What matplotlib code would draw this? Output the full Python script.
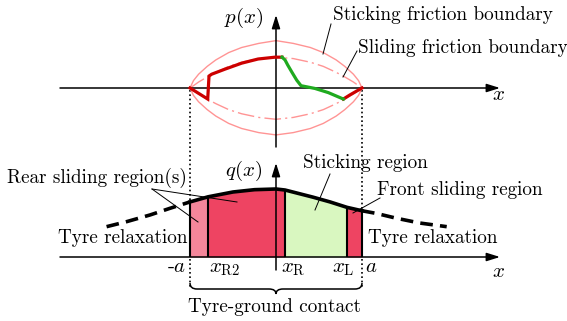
import numpy as np
import matplotlib
matplotlib.use('Agg')
import matplotlib.pyplot as plt
from matplotlib.transforms import Affine2D
from matplotlib.path import Path
from matplotlib.patches import PathPatch

plt.rcParams['font.family'] = ['cmr10', 'DejaVu Serif']
plt.rcParams['mathtext.fontset'] = 'cm'
plt.rcParams['axes.unicode_minus'] = False

# =========================
# DATA (x in units of the half contact length a)
# =========================
# friction boundaries of p(x)
bound_x = [-1.0, -0.96, -0.9, -0.8, -0.7, -0.55, -0.4, -0.2, 0.0,
           0.2, 0.4, 0.55, 0.7, 0.8, 0.9, 0.96, 1.0]
stick_top = [0.0, 0.16, 0.30, 0.47, 0.61, 0.77, 0.88, 0.97, 1.03,
             0.97, 0.88, 0.77, 0.61, 0.47, 0.30, 0.16, 0.0]
stick_bot = [0.0, -0.16, -0.30, -0.47, -0.61, -0.77, -0.88, -0.97, -1.02,
             -0.97, -0.88, -0.77, -0.61, -0.47, -0.30, -0.16, 0.0]
slide_top = [0.0, 0.05, 0.13, 0.24, 0.34, 0.47, 0.56, 0.64, 0.67,
             0.64, 0.56, 0.47, 0.34, 0.24, 0.13, 0.05, 0.0]
slide_bot = [0.0, -0.05, -0.13, -0.24, -0.34, -0.47, -0.56, -0.64, -0.68,
             -0.64, -0.56, -0.47, -0.34, -0.24, -0.13, -0.05, 0.0]

# actual p(x): rear sliding (red), sticking (green), front sliding (red)
rear_x = [-1.0, -0.794, -0.779, -0.748, -0.593, -0.399, -0.209, -0.012, 0.07]
rear_p = [0.0, -0.24, 0.26, 0.30, 0.41, 0.54, 0.63, 0.67, 0.67]
stick_x = [0.07, 0.105, 0.136, 0.183, 0.241, 0.291, 0.453, 0.608, 0.783]
stick_p = [0.67, 0.61, 0.50, 0.35, 0.17, 0.05, -0.01, -0.10, -0.24]
front_x = [0.783, 0.86, 1.0]
front_p = [-0.24, -0.15, 0.0]

# q(x) load distribution
q_x = [-1.0, -0.79, -0.5, -0.25, 0.0, 0.105, 0.43, 0.628, 0.826, 1.0]
q_val = [0.81, 0.885, 0.956, 0.99, 1.0, 0.985, 0.88, 0.81, 0.73, 0.68]
relax_left_x = [-1.97, -1.736, -1.465, -1.233, -1.0]
relax_left_q = [0.446, 0.52, 0.618, 0.716, 0.81]
relax_right_x = [1.0, 1.17, 1.4, 1.67, 1.985]
relax_right_q = [0.68, 0.64, 0.57, 0.50, 0.446]

# region borders: -a, x_R2, x_R, x_L, a
borders = [-1.0, -0.79, 0.105, 0.826, 1.0]
region_colors = ['#f4869a', '#ee4462', '#d9f7c0', '#ee4462']

# =========================
# FIGURE (axes in pixel units)
# =========================
fig = plt.figure(figsize=(5.67, 3.21), dpi=100)
ax = fig.add_axes([0, 0, 1, 1])
ax.set_xlim(0, 567)
ax.set_ylim(321, 0)
ax.set_autoscale_on(False)
ax.axis('off')

top = Affine2D().scale(86, -46).translate(276, 88) + ax.transData
bot = Affine2D().scale(86, -68).translate(276, 257) + ax.transData

pink = '#ff9494'
red = '#cc0000'
green = '#1faa1f'

# axes
arrow = dict(arrowstyle='-|>,head_length=0.8,head_width=0.25', lw=1.1, color='k',
             shrinkA=0, shrinkB=0)
for start, end in [((60, 88), (500, 88)), ((276, 147), (276, 15)),
                   ((60, 257), (500, 257)), ((276, 270), (276, 163))]:
    ax.annotate('', xy=end, xytext=start, arrowprops=arrow, zorder=3)

# dotted contact limits
ax.vlines([190, 362], 90, 288, colors='k', linestyles=(0, (1, 1.6)), lw=1.2)

# ---- top: p(x) ----
dashdot = (0, (12, 3, 1.5, 3))
ax.plot(bound_x, stick_top, color=pink, lw=1.0, transform=top)
ax.plot(bound_x, stick_bot, color=pink, lw=1.0, transform=top)
ax.plot(bound_x, slide_top, color=pink, lw=1.0, ls=dashdot, transform=top)
ax.plot(bound_x, slide_bot, color=pink, lw=1.0, ls=dashdot, transform=top)
ax.plot(rear_x, rear_p, color=red, lw=2.3, solid_joinstyle='miter', transform=top, zorder=4)
ax.plot(front_x, front_p, color=red, lw=2.3, transform=top, zorder=4)
ax.plot(stick_x, stick_p, color=green, lw=2.3, transform=top, zorder=4)

# ---- bottom: q(x) ----
qx = np.array(q_x)
for lo, hi, c in zip(borders[:-1], borders[1:], region_colors):
    ax.fill_between(q_x, 0, q_val, where=(qx >= lo - 1e-9) & (qx <= hi + 1e-9),
                    color=c, lw=0, transform=bot, zorder=1)
ax.vlines(borders, 0, np.interp(borders, q_x, q_val), colors='k', lw=1.5,
          transform=bot, zorder=2)
ax.plot(q_x, q_val, color='k', lw=2.6, transform=bot, zorder=4)
ax.plot(relax_left_x, relax_left_q, color='k', lw=2.6, ls=(0, (3.5, 2)), transform=bot)
ax.plot(relax_right_x, relax_right_q, color='k', lw=2.6, ls=(0, (3.5, 2)), transform=bot)

# brace under the contact patch
verts = [(190, 283), (190, 289), (197, 289), (269, 289), (276, 289), (276, 294),
         (276, 289), (283, 289), (355, 289), (362, 289), (362, 283)]
codes = [Path.MOVETO, Path.CURVE3, Path.CURVE3, Path.LINETO, Path.CURVE3, Path.CURVE3,
         Path.CURVE3, Path.CURVE3, Path.LINETO, Path.CURVE3, Path.CURVE3]
ax.add_patch(PathPatch(Path(verts, codes), fill=False, lw=1.1, ec='k'))

# leader lines
for (x0, y0), (x1, y1) in [((331, 24), (323, 54)), ((357, 51), (343, 77)),
                           ((330, 174), (315, 210)), ((380, 198), (353, 213)),
                           ((152, 189), (198, 222)), ((152, 189), (237, 202))]:
    ax.plot([x0, x1], [y0, y1], color='k', lw=0.7)

# =========================
# TEXT
# =========================
fs = 13.8
ms = 15
ax.text(244, 23, '$p(x)$', fontsize=ms, ha='center', va='baseline')
ax.text(244, 176, '$q(x)$', fontsize=ms, ha='center', va='baseline')
ax.text(498, 100, '$x$', fontsize=ms, ha='center', va='baseline')
ax.text(499, 277, '$x$', fontsize=ms, ha='center', va='baseline')
ax.text(333, 20, 'Sticking friction boundary', fontsize=fs, ha='left', va='baseline')
ax.text(358, 53, 'Sliding friction boundary', fontsize=fs, ha='left', va='baseline')
ax.text(7, 183, 'Rear sliding region(s)', fontsize=fs, ha='left', va='baseline')
ax.text(303, 168, 'Sticking region', fontsize=fs, ha='left', va='baseline')
ax.text(377, 195, 'Front sliding region', fontsize=fs, ha='left', va='baseline')
ax.text(58, 243, 'Tyre relaxation', fontsize=fs, ha='left', va='baseline')
ax.text(368, 243, 'Tyre relaxation', fontsize=fs, ha='left', va='baseline')
ax.text(186, 272, '-$a$', fontsize=ms, ha='right', va='baseline')
ax.text(209, 272, r'$x_{\mathrm{R2}}$', fontsize=ms, ha='left', va='baseline')
ax.text(281, 272, r'$x_{\mathrm{R}}$', fontsize=ms, ha='left', va='baseline')
ax.text(332, 272, r'$x_{\mathrm{L}}$', fontsize=ms, ha='left', va='baseline')
ax.text(365, 272, '$a$', fontsize=ms, ha='left', va='baseline')
ax.text(275, 312, 'Tyre-ground contact', fontsize=fs, ha='center', va='baseline')

fig.savefig('out.png', dpi=100)
